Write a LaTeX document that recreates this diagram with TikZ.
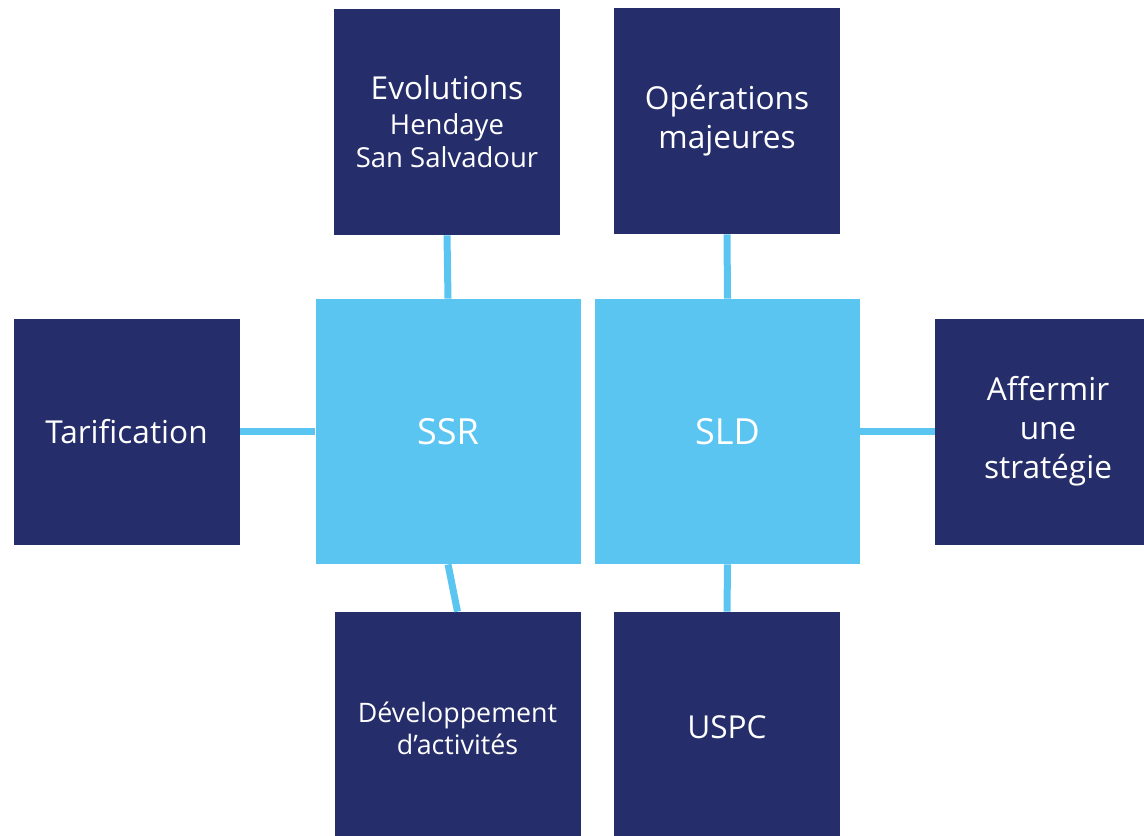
\documentclass[tikz,border=0pt]{standalone}
\usepackage{fontspec}
\setmainfont{Open Sans}
\usepackage[rgb]{xcolor}
\usepackage{tikz}
\definecolor{navy}{RGB}{37,46,106}
\definecolor{sky}{RGB}{91,197,242}
\newcommand\subfont{\fontsize{13.75}{16.5}\selectfont}

\begin{document}
\begin{tikzpicture}[x=0.5pt, y=-0.5pt,
  darkbox/.style={fill=navy, text=white, inner sep=0pt, minimum width=113pt, minimum height=113pt, align=center, font=\fontsize{15.8}{19.5}\selectfont},
  lightbox/.style={fill=sky, text=white, inner sep=0pt, minimum size=132.5pt, font=\fontsize{18}{22}\selectfont},
  link/.style={draw=sky, line width=3.5pt}]

\useasboundingbox (0,0) rectangle (1144,835);
\clip (0,0) rectangle (1144,835);


% SSR and SLD squares
\path
(448,431.5) node[lightbox] (ssr) {SSR}
(727.5,431.5) node[lightbox] (sld) {SLD};


% boxes round SSR
\path
(447,122) node[darkbox, font=\fontsize{15.8}{16.5}\selectfont] (evol) {Evolutions\\[1pt]\subfont Hendaye\\\subfont San Salvadour}
(126.5,431.5) node[darkbox] (tarif) {Tarification}
(457.5,728) node[darkbox, minimum width=123pt, minimum height=116pt, font=\fontsize{13.4}{16}\selectfont] (dev) {Développement\\d’activités};


% boxes round SLD
\path
(727,121) node[darkbox] (oper) {Opérations\\majeures}
(1048,431.5) node[darkbox] (aff) {Affermir\\une\\stratégie}
(727,727) node[darkbox, minimum height=115pt] (uspc) {USPC};


% links
\draw[link] (evol.south) -- (ssr.north);
\draw[link] (tarif.east) -- (ssr.west);
\draw[link] (ssr.south) -- (dev.north);
\draw[link] (oper.south) -- (sld.north);
\draw[link] (sld.east) -- (aff.west);
\draw[link] (sld.south) -- (uspc.north);


\end{tikzpicture}
\end{document}
